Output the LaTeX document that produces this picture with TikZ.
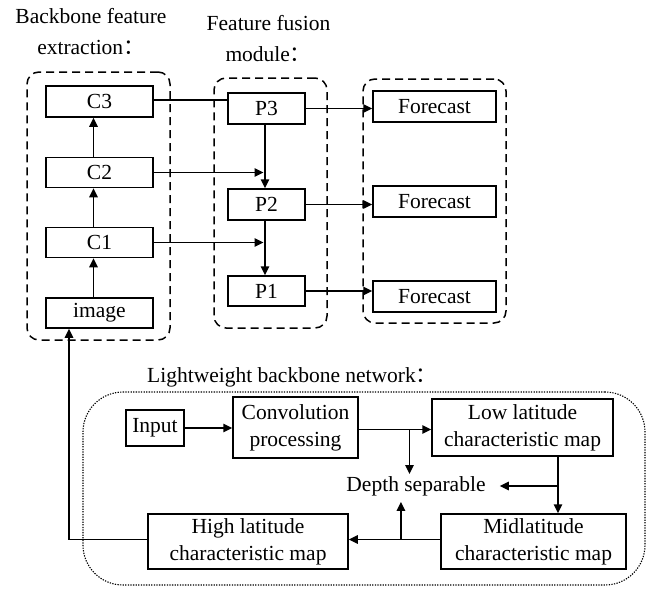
\documentclass[tikz,border=0pt]{standalone}
\usepackage{fontspec}
\setmainfont{Liberation Serif}
\newfontfamily\cjk{Noto Sans CJK SC}
\usetikzlibrary{arrows.meta,calc}
\begin{document}
\begin{tikzpicture}[x=1pt,y=-1pt,
  font=\fontsize{21.5}{27}\selectfont,
  box/.style={draw, line width=1.5pt, inner sep=0pt, align=center},
  grp/.style={draw, line width=1.5pt, dash pattern=on 8pt off 5pt, rounded corners=12pt, inner sep=0pt},
  dotgrp/.style={draw, line width=1.1pt, dash pattern=on 1.3pt off 1.3pt, rounded corners=40pt, inner sep=0pt},
  arr/.style={line width=1.5pt, -{Triangle[length=9pt,width=8.5pt]}},
  ln/.style={line width=1.5pt},
  ttl/.style={align=center, inner sep=0pt, font=\fontsize{21.5}{31}\selectfont}]
\useasboundingbox (0,0) rectangle (656,590);

% titles
\node[ttl] (T1) at (91,32) {Backbone feature\\extraction{\cjk ：}};
\node[ttl] (T2) at (268.5,39) {Feature fusion\\module{\cjk ：}};
\node[ttl, anchor=west] (T3) at (147,377) {Lightweight backbone network{\cjk ：}};

% groups
\node[grp, minimum width=143pt, minimum height=268pt] (G1) at (98.5,206) {};
\node[grp, minimum width=113pt, minimum height=250pt] (G2) at (270.5,203) {};
\node[grp, minimum width=143pt, minimum height=244pt] (G3) at (434.5,201) {};
\node[dotgrp, minimum width=562pt, minimum height=193pt] (G4) at (364,488.5) {};

% backbone
\node[box, minimum width=107pt, minimum height=31pt] (C3) at (99.5,101.5) {C3};
\node[box, minimum width=107pt, minimum height=30pt] (C2) at (99.5,172.5) {C2};
\node[box, minimum width=107pt, minimum height=30pt] (C1) at (99.5,242.5) {C1};
\node[box, minimum width=107pt, minimum height=30pt] (image) at (99.5,313) {image};

% fusion
\node[box, minimum width=77pt, minimum height=31pt] (P3) at (266.5,108.5) {P3};
\node[box, minimum width=77pt, minimum height=31pt] (P2) at (266.5,204.5) {P2};
\node[box, minimum width=77pt, minimum height=30pt] (P1) at (266.5,291) {P1};

% forecast
\node[box, minimum width=123pt, minimum height=31pt] (F1) at (434.5,106.5) {Forecast};
\node[box, minimum width=123pt, minimum height=31pt] (F2) at (434.5,201.5) {Forecast};
\node[box, minimum width=123pt, minimum height=31pt] (F3) at (434.5,296.5) {Forecast};

% bottom network
\node[box, minimum width=58pt, minimum height=36pt] (In) at (155,428) {Input};
\node[box, minimum width=125pt, minimum height=61pt] (Conv) at (295.5,427.5) {Convolution\\processing};
\node[box, minimum width=181pt, minimum height=57pt] (Low) at (522.5,427.5) {Low latitude\\characteristic map};
\node[inner sep=2pt] (D) at (416,486) {Depth separable};
\node[box, minimum width=185pt, minimum height=55pt] (Mid) at (533.5,541.5) {Midlatitude\\characteristic map};
\node[box, minimum width=200pt, minimum height=55pt] (High) at (248,541.5) {High latitude\\characteristic map};

% connectors top
\draw[arr] ([xshift=-6pt]image.north) -- ([xshift=-6pt]C1.south);
\draw[arr] ([xshift=-6pt]C1.north) -- ([xshift=-6pt]C2.south);
\draw[arr] ([xshift=-6pt]C2.north) -- ([xshift=-6pt]C3.south);
\draw[ln] ([yshift=1.5pt]C3.east) -- ([yshift=1.5pt]C3.east -| P3.west);
\draw[arr] (C2.east) -- ([xshift=-3pt]C2.east -| P3.south);
\draw[arr] (C1.east) -- ([xshift=-3pt]C1.east -| P3.south);
\draw[arr] ([xshift=-1.5pt]P3.south) -- ([xshift=-1.5pt]P2.north);
\draw[arr] ([xshift=-1.5pt]P2.south) -- ([xshift=-1.5pt]P1.north);
\draw[arr] (P3.east) -- (P3.east -| F1.west);
\draw[arr] (P2.east) -- (P2.east -| F2.west);
\draw[arr] (P1.east) -- (P1.east -| F3.west);

% connectors bottom
\draw[arr] (In.east) -- (In.east -| Conv.west);
\draw[arr] ([yshift=-2pt]Conv.east) -- ([yshift=-2pt]Low.west);
\coordinate (b1) at ($([yshift=-2pt]Conv.east)!0.7!([yshift=-2pt]Low.west)$);
\draw[arr] (b1) -- (b1 |- D.north);
\coordinate (b2top) at ([xshift=35.5pt]Low.south);
\draw[arr] (b2top) -- (b2top |- Mid.north);
\coordinate (b2) at (b2top |- D.east);
\draw[arr, shorten >=12pt] (b2) -- (D.east);
\draw[arr] ([yshift=2pt]Mid.west) -- ([yshift=2pt]High.east);
\coordinate (b3) at ($([yshift=2pt]Mid.west)!0.43!([yshift=2pt]High.east)$);
\draw[arr, shorten >=4pt] (b3) -- (b3 |- D.south);
\draw[arr] ([yshift=2pt]High.west) -| ([xshift=-30.5pt]image.south);
\end{tikzpicture}
\end{document}
